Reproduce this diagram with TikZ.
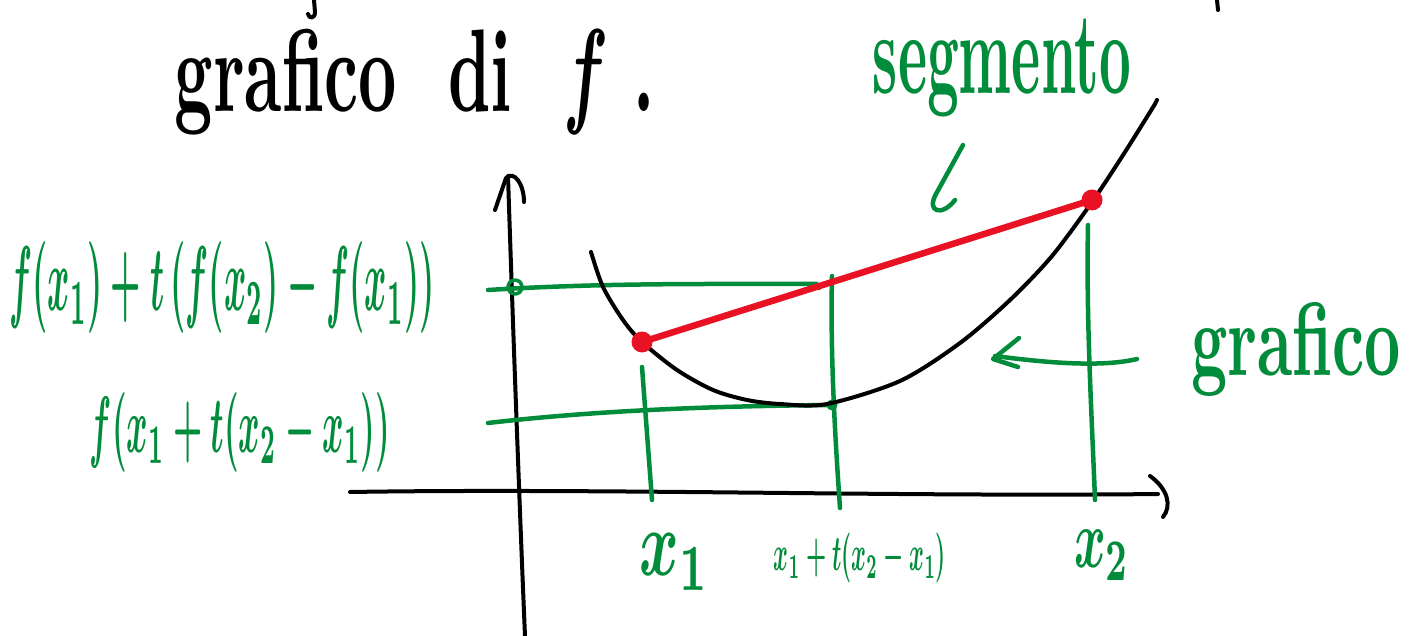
\documentclass[tikz,border=0pt]{standalone}
\usepackage{graphicx}
\definecolor{pgreen}{RGB}{0,140,58}
\definecolor{pred}{RGB}{232,18,36}
\newcommand{\hwbox}[3]{\resizebox*{#1pt}{#2pt}{\boldmath\bfseries #3}}
\begin{document}
\begin{tikzpicture}[x=1pt,y=-1pt, line cap=round, line join=round,
  ink/.style={line width=4pt, black},
  gink/.style={line width=4.5pt, pgreen},
  rink/.style={line width=6.5pt, pred},
  lbl/.style={inner sep=0pt, outer sep=0pt, anchor=center},
  rdot/.style={circle, fill=pred, minimum size=21pt, inner sep=0pt},
]
\useasboundingbox[fill=white] (0,0) rectangle (1422,636);

% cut-off fragments of the previous handwritten line
\draw[ink] (314,0) -- (315,12) .. controls (315,19) and (309,19) .. (308,14);
\draw[ink] (1217,0) -- (1218,10);

% title
\node[lbl] (title) at (415,82) {\hwbox{480}{106}{grafico\ \ di\ \ $f$\ .}};

% axes
\coordinate (yb) at (525,636);
\coordinate (yt) at (508,176);
\draw[ink] (yb) .. controls (520,520) and (512,300) .. (yt);
\draw[ink] (495,210) -- (506,178) .. controls (514,170) and (524,184) .. (524,202);
\coordinate (xl) at (350,492);
\coordinate (xr) at (1158,494);
\draw[ink] (xl) .. controls (600,488) and (900,497) .. (xr);
\draw[ink] (1150,476) .. controls (1168,489) and (1172,506) .. (1163,517);

% green guide lines
\coordinate (h1l) at (488,290);
\coordinate (h1r) at (817,284);
\draw[gink] (h1l) .. controls (600,283) and (700,284) .. (h1r) -- (819,288);
\coordinate (h2l) at (488,423);
\coordinate (h2r) at (830,405);
\draw[gink] (h2l) .. controls (600,410) and (720,406) .. (h2r);
\coordinate (v1t) at (642,367);
\coordinate (v1b) at (652,500);
\draw[gink] (v1t) -- (v1b);
\coordinate (vmt) at (832,276);
\coordinate (vmb) at (840,508);
\draw[gink] (vmt) .. controls (830,360) and (836,450) .. (vmb);
\coordinate (v2t) at (1088,225);
\coordinate (v2b) at (1095,500);
\draw[gink] (v2t) .. controls (1086,320) and (1092,420) .. (v2b);
\node[circle, draw=pgreen, line width=3.5pt, minimum size=14pt, inner sep=0pt] (c1) at (515,287) {};
\node[circle, fill=pgreen, minimum size=11pt, inner sep=0pt] (c2) at (832,405) {};

% graph of f
\draw[ink] plot[smooth, tension=0.5] coordinates {(591,252) (603,287) (623,320) (642,342) (677,370) (713,390) (747,400) (780,404) (827,404) (900,381) (960,343) (1010,300) (1052,256) (1092,202) (1125,152) (1155,104)};
\draw[ink] (1155,104) -- (1157,100);

% red segment
\node[rdot] (A) at (642,342) {};
\node[rdot] (B) at (1092,200) {};
\draw[rink] (A.center) -- (B.center);

% annotations
\node[lbl, text=pgreen] (seg) at (1002,68) {\hwbox{258}{98}{segmento}};
\coordinate (s1) at (963,145);
\coordinate (s2) at (936,194);
\draw[gink] (s1) -- (s2) .. controls (926,212) and (942,217) .. (955,200);

\node[lbl, text=pgreen] (graf) at (1296,349) {\hwbox{210}{94}{grafico}};
\coordinate (g1) at (1137,359);
\coordinate (g2) at (995,356);
\draw[gink] (g1) .. controls (1100,368) and (1040,362) .. (g2);
\draw[gink] (1019,338) -- (993,359) -- (1018,367);

\node[lbl, text=pgreen] (L1) at (222,288) {\hwbox{425}{92}{$f(x_1)+t\,(f(x_2)-f(x_1))$}};
\node[lbl, text=pgreen] (L2) at (240,432) {\hwbox{300}{80}{$f(x_1+t(x_2-x_1))$}};
\node[lbl, text=pgreen] (X1) at (675,562) {\hwbox{70}{56}{$x_1$}};
\node[lbl, text=pgreen] (XM) at (860,558) {\hwbox{172}{50}{$x_1+t(x_2-x_1)$}};
\node[lbl, text=pgreen] (X2) at (1102,555) {\hwbox{56}{50}{$x_2$}};
\end{tikzpicture}
\end{document}
